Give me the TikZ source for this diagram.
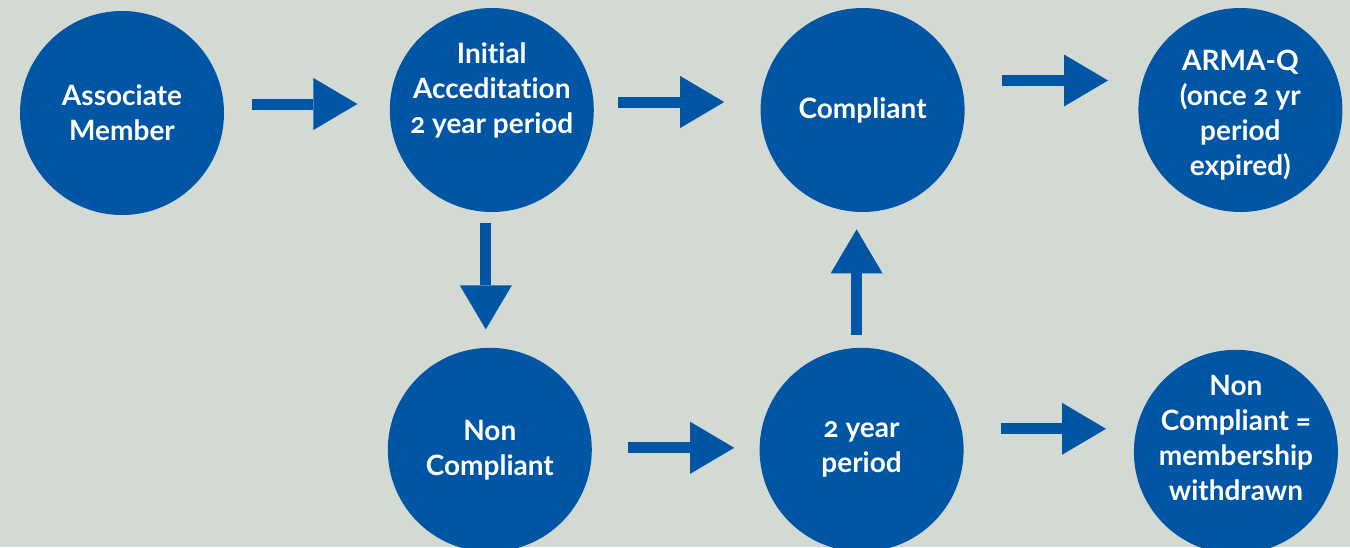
\documentclass[tikz,border=0pt]{standalone}
\usepackage{fontspec}
\setmainfont{Lato}[Numbers=OldStyle, Ligatures=CommonOff]
\usepackage{tikz}
\usetikzlibrary{positioning, arrows.meta}
\definecolor{stageblue}{HTML}{0055A5}
\definecolor{panel}{HTML}{D3DAD4}
\tikzset{
  stage/.style     = {circle, fill=stageblue, minimum size=102pt, inner sep=0pt,
                      text=white, align=center,
                      font=\fontsize{14}{17.5}\selectfont\bfseries},
  stagetext/.style = {text=white, align=center, inner sep=0pt,
                      font=\fontsize{14}{17.5}\selectfont\bfseries},
  flow/.style      = {-{Triangle[length=22pt,width=26pt,line width=0pt]},
                      line width=5.5pt, draw=stageblue},
}

\begin{document}
\begin{tikzpicture}[x=0.5pt, y=-0.5pt]

  % ----- canvas -----
  \useasboundingbox (0,0) rectangle (1350,547);
  \fill[panel] (0,0) rectangle (1350,547);

  % ----- top row -----
  \node[stage] (assoc) at (122,113) {Associate\\Member};
  \node[stage, right=82.5pt of assoc, yshift=1.5pt,
        label={[stagetext, yshift=10pt]center:{Initial\\Acceditation\\2 year period}}] (init) {};
  \node[stage, right=83pt of init] (comp) {Compliant};
  \node[stage, right=86.5pt of comp,
        label={[stagetext, yshift=-2.5pt]center:{ARMA-Q\\(once 2 yr\\period\\expired)}}] (arma) {};

  % ----- bottom row -----
  \node[stage, below=67.5pt of init, xshift=-1pt] (nonc) {Non\\Compliant};
  \node[stage, right=83.5pt of nonc] (twoyr) {2 year\\period};
  \node[stage, right=84.75pt of twoyr, yshift=-1pt,
        label={[stagetext, yshift=7pt]center:{Non\\Compliant =\\membership\\withdrawn}}] (ncm) {};

  % ----- arrows -----
  \draw[flow, shorten <=14pt, shorten >=16pt] ([yshift=4.5pt]assoc.east) -- ([yshift=3pt]init.west);
  \draw[flow, shorten <=12pt, shorten >=18pt] ([yshift=4pt]init.east) -- ([yshift=4pt]comp.west);
  \draw[flow, shorten <=18.5pt, shorten >=15pt] ([yshift=14.75pt]comp.east) -- ([yshift=14.75pt]arma.west);
  \draw[flow, shorten <=5.5pt, shorten >=9pt] ([xshift=-3pt]init.south) -- ([xshift=-2pt]nonc.north);
  \draw[flow, shorten <=18pt, shorten >=12.5pt] ([yshift=1pt]nonc.east) -- ([yshift=1pt]twoyr.west);
  \draw[flow, shorten <=6pt, shorten >=8.5pt] ([xshift=-2.5pt]twoyr.north) -- ([xshift=-3pt]comp.south);
  \draw[flow, shorten <=18.5pt, shorten >=13.75pt] ([yshift=10.5pt]twoyr.east) -- ([yshift=11.5pt]ncm.west);

\end{tikzpicture}
\end{document}
